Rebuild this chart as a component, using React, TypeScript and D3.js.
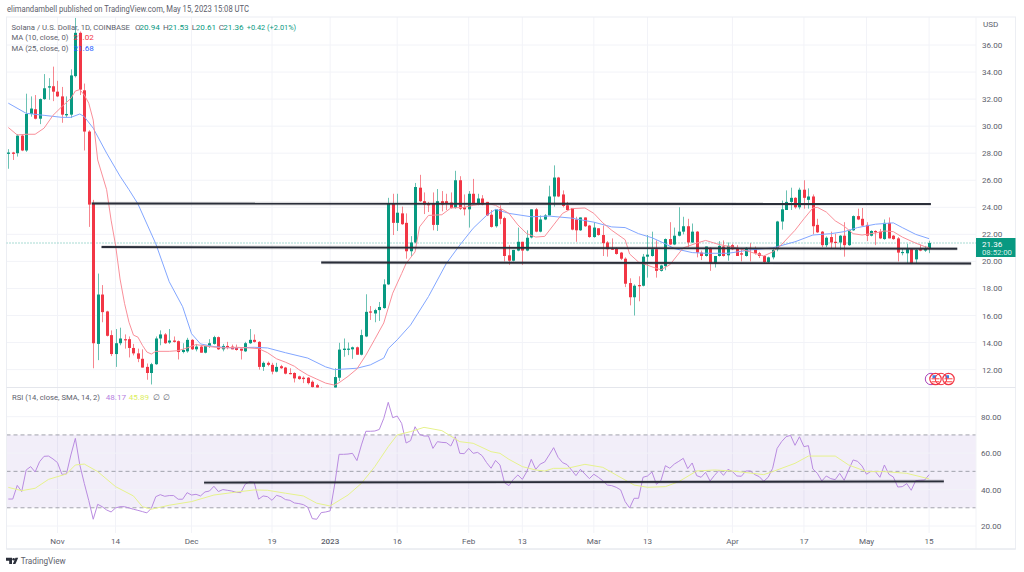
import React from "react";
import * as d3 from "d3";

const opens = [27.95,28.05,28,29.3,28.2,30.9,31.25,30.55,32,32.85,
32.95,32.55,32.2,30.8,30.85,33.7,36.9,32.65,29.6,24.25,
13.9,17.55,16.3,14.55,13.15,13.95,14.25,14.25,13.6,13.2,
12.8,12.2,11.75,12.4,14.3,14.6,14,14.15,14.1,13.3,
13.35,14.2,13.5,13.7,13.25,13.75,13.9,14.4,13.5,13.75,
13.7,13.6,13.55,13.35,13.95,14.2,14.05,12.2,12.5,12.35,
11.85,12.25,12.15,11.75,11.75,11.5,11.4,11.4,11.1,10.85,
10.6,10.3,10.1,10,11.4,13.45,13.5,13.5,13.65,13.1,
14.45,16.3,16.15,16.4,16.55,18.3,24.27,22.85,23.55,22.85,
20.75,21.4,25.45,24.45,24.25,24.3,22.7,24.45,24.45,24.35,
23.95,26,24,23.85,25,24.2,24.65,24.4,23.45,22.6,
23.85,23.2,20.45,20.05,20.8,21.45,20.8,21.77,23.85,22.2,
23.1,23.4,24.8,26.2,24.95,24.15,23.95,23.1,22.3,23.25,
22.65,21.8,22.45,21.95,21.4,20.95,20.95,20.65,20.2,18.4,
17.35,18.25,18.2,20.35,20.4,20.9,19.3,19.65,21.65,21.25,
21.9,22.2,22.6,21.4,22.2,20.65,20.4,21,19.85,20.4,
21.1,20.45,21.2,21,20.6,20.4,21,20.9,20.6,20.4,
19.95,20.3,20.9,22.95,23.8,24.4,24.7,24,25.3,24.55,
24.8,22.7,22.2,21.2,21.8,21.45,21.4,21.9,21.2,22.3,
23.35,23.15,22.7,21.9,22.25,22.2,21.65,22.85,21.9,21.7,
20.65,20.6,20.9,20.15,20.9,20.8,20.94];
const highs = [28.3,28.1,29.4,29.4,32.4,32.2,32.3,32.05,33.85,33.55,
34.4,33.35,32.9,32.2,34.2,38,37,33.15,29.7,24.55,
19.1,18.25,16.35,14.9,15,15.1,14.6,14.45,13.9,13.55,
13.5,12.45,12.5,14.45,14.9,14.7,15,14.45,14.15,13.95,
14.35,14.25,13.9,13.8,13.75,14.25,14.5,14.45,13.9,14.05,
13.85,13.85,13.55,14.05,15,14.6,14.1,12.6,12.6,12.5,
12.5,12.35,12.2,12.1,11.8,11.55,11.5,11.45,11.2,10.95,
10.7,10.4,10.2,12.1,13.98,14.3,14,13.7,13.7,14.95,
17.57,16.7,16.5,17,18.68,24.7,25,25,24.05,23.55,
21.87,25.8,26.4,25.1,24.4,25.1,25.35,25.2,25,25.1,
26.7,26.3,24.95,25.2,26.1,25,24.9,24.4,23.8,23.85,
24.15,23.3,21.2,20.85,22.5,21.45,22.3,23.85,23.95,23.4,
23.5,25.6,27.1,26.25,25.25,24.4,23.95,23.3,23.25,23.25,
22.7,22.9,22.45,22.65,21.5,21.7,21.05,20.7,20.3,18.75,
18.3,18.9,20.55,21.95,22.2,21.55,19.75,21.7,22.9,22.5,
24,23.3,23.15,22.8,22.25,20.8,21.1,21.05,20.4,21.5,
21.55,21.4,21.3,21.2,21,21.05,21.35,21.1,20.7,20.45,
20.35,20.9,23,24.5,25.25,25.45,24.75,25.45,26,25.4,
24.95,23.15,22.25,21.85,22.2,22.05,21.95,22.9,22.35,23.4,
23.9,23.95,22.9,22.3,22.3,22.4,23.1,23.25,21.95,21.8,
20.95,21.3,20.95,20.95,21.25,21.15,21.53];
const lows = [26.85,27.5,27.75,28.15,28.1,30.7,30.5,30.15,31.95,31.95,
31.85,32.15,30.25,30.65,30.6,33.6,32.3,28.2,22.55,12.1,
12.7,15.5,14.45,13,12.2,13.8,13.55,12.9,13.05,12.55,
12.15,11.25,10.9,12.35,13.8,13.9,13.9,14,12.75,13.2,
13.25,13.45,13.35,13.25,13.2,13.6,13.85,13.45,13.35,13.5,
13.5,13.4,12.75,13.3,13.9,14,12,11.9,12.25,11.65,
11.8,12.05,11.65,11.65,11.05,11.25,11,10.9,10.65,10.3,
10.1,10,9.9,9.9,11.15,12.95,13.07,12.8,13.1,13.05,
14.4,15.67,15.5,15.6,16.5,18.25,21.95,22.25,22.7,20.2,
20.4,21.35,24.4,23.5,23.65,22.3,22.25,23.7,23.8,23.9,
23.9,23.8,23.4,22.5,24.2,24.15,24.15,23.35,22.5,22.5,
22.75,20,19.75,20,20.75,19.75,20.75,21.7,22.15,22.15,
23.05,23.4,24.05,24.75,24,23.75,22.3,21.45,22.25,22.55,
21.75,21.75,21.9,20.4,20.35,20.85,20.5,20.1,18.1,16.75,
16,17.05,18.15,18.8,20.35,18.8,19.25,19.35,21.2,21.2,
21.85,22,21.05,21.35,20.3,20.1,20.35,19.3,19.55,20.35,
20.35,20.05,20.85,20.4,20,20.35,20,20.5,20.25,19.85,
19.85,20.15,20.75,22.35,23.8,23.8,23.9,23.85,23.9,23.9,
22,22.1,21.05,21.05,20.95,20.95,20.85,20.35,21.15,22.25,
23.05,22.6,21.5,21.85,21.2,21.65,21.6,21.7,21.6,20,
20.45,19.85,19.8,19.85,20.75,20.7,20.61];
const closes = [28.05,27.95,29.3,28.2,30.9,31.3,30.55,32,32.8,32.95,
32.55,32.2,30.85,30.9,33.75,36.9,32.7,29.6,24.2,13.95,
17.55,16.25,14.5,13.15,13.95,14.3,14.2,13.6,13.2,12.8,
12.15,11.75,12.4,14.3,14.6,13.95,14.15,14.05,13.3,13.45,
14.2,13.5,13.7,13.25,13.75,13.95,14.4,13.5,13.75,13.6,
13.5,13.45,13.4,13.95,14.2,14.05,12.2,12.5,12.35,11.85,
12.2,12.1,11.7,11.7,11.35,11.3,11.3,11,10.7,10.6,
10.3,10.1,10,11.45,13.48,13.55,13.55,13.65,13.1,14.55,
16.27,16.27,16.4,16.63,18.3,24.27,22.85,23.6,22.75,20.75,
21.4,25.5,24.45,24.2,24.15,22.7,24.45,24.2,24.3,23.95,
26,23.9,23.85,25,24.25,24.65,24.2,23.4,22.55,23.85,
23.15,20.4,20.05,20.85,21.45,20.8,21.75,23.85,22.2,23.1,
23.4,24.8,26.2,24.8,24.1,23.8,22.35,22.3,23.25,22.6,
21.8,22.5,21.95,21.35,20.9,20.9,20.55,20.2,18.35,17.35,
18.2,18.2,20.35,20.5,20.9,19.3,19.7,21.65,21.25,21.9,
22.2,22.6,21.4,22.2,20.65,20.4,21.1,19.85,20.4,21.15,
20.4,21.15,20.9,20.4,20.5,21,20.9,20.6,20.4,19.95,
20.3,20.85,22.95,23.85,24.4,24.7,24,25.3,24.7,24.8,
22.6,22.15,21.2,21.75,21.4,21.4,21.9,21.2,22.3,23.35,
23.1,22.65,21.9,22.25,22.15,21.7,22.85,21.7,21.65,20.65,
20.7,20.9,19.85,20.85,20.8,20.95,21.36];

const ma10Idx = [0,2,4,6,8,10,12,14,15,16,17,18,19,20,22,23,24,25,26,27,28,29,30,31,32,33,36,38,40,42,45,48,51,54,56,58,60,62,64,65,67,69,71,73,74,76,78,80,82,84,86,88,89,91,92,94,97,99,102,104,107,109,112,114,116,118,120,122,124,126,129,131,133,135,138,139,141,144,146,148,151,154,156,159,163,167,169,171,173,176,178,180,181,183,185,187,189,191,194,196,198,200,203,205,206];
const ma10Val = [29.9,29.35,29.4,29.4,29.85,30.8,31.45,32.05,32.6,32.7,32.3,31.7,30.45,27.5,25.3,23.05,21.2,18.7,16.9,15.5,14.55,14.4,13.8,13.3,13.15,13.35,13.35,13.4,13.6,13.85,13.7,13.6,13.65,13.6,13.55,13.25,12.8,12.55,12.25,12,11.6,11.3,11,10.85,11.03,11.5,12.05,13.07,14.25,15.45,17.65,19.1,19.85,20.7,22.55,23.4,23.45,23.95,24,24.15,24.3,24.15,23.55,22.7,22.05,21.8,21.85,22.7,23.55,23.9,23.95,23.55,22.85,22.3,21.6,20.55,19.95,19.6,19.38,19.75,21,21.35,21.55,21.25,21,20.6,20.4,20.7,21.25,22.3,23.15,23.95,24,23.65,23,22.6,22.05,21.95,22.1,22.25,22.2,21.8,21.35,21.1,21.02];
const ma25Idx = [0,4,8,12,14,16,17,19,22,25,27,29,33,36,39,41,43,46,50,55,58,62,67,71,73,78,81,84,85,87,90,94,98,101,104,107,109,112,117,121,126,131,135,138,141,144,147,149,153,156,161,166,171,176,180,184,187,190,194,198,200,203,206];
const ma25Val = [31.7,30.95,30.8,30.65,30.65,30.9,30.7,29.85,28,26.3,25.3,24.25,21.3,18.5,16.65,14.65,13.9,13.7,13.6,13.65,13.6,13.25,12.85,12.2,12,12.1,12.35,12.85,13.55,14.2,15.3,17.4,19.85,21.2,22.45,23.4,23.85,23.55,23.3,23.35,23.2,22.9,22.55,22.5,22.05,21.75,21.3,20.95,20.65,20.6,20.6,20.85,21,21.45,21.95,22.05,22.2,22.5,22.75,22.85,22.5,22,21.68];

const rsi = [34.8,34.8,42.3,38.9,50.75,52.6,49.65,55.3,58.25,58.4,
56.8,54.8,48.35,48.55,59,68.1,53.5,43.4,34,23.7,
31.9,30.6,28.8,27.7,29.9,30.6,30.6,29.9,29.2,28.6,
27.9,27.2,29.7,36.1,37.2,36.3,36.7,36.7,34.7,34.7,
38.3,37,37.4,36.5,38.7,39.2,41.8,38.9,40,39.6,
39.2,38.5,38.3,42.9,44.35,44,34.7,36.5,36.1,34.1,
36.85,36.1,34.5,34.1,32.65,32.3,31.75,30.3,24.05,23.7,
27.35,27.7,28.3,42.5,59.35,59.35,59.5,59.9,55.9,64.5,
72,72,72.15,73,79.1,87.9,79.45,80.35,76.35,65.55,
66.85,74.5,70.3,69.4,69.4,62.6,66.3,65.9,65.75,63.9,
69,59.9,59.7,62.6,59.9,60.4,58.6,54.8,51.7,56,
53.5,43.8,42.15,45.6,48,45.6,49.85,56.6,51.1,54,
55.15,59,63,57.7,54.8,53.7,50.75,47.65,51.1,48.55,
46,48.4,46.75,44.9,42.5,42.15,41.25,39.8,33.4,29.9,
35.2,35.2,46.75,47.45,49.65,42.9,44.9,53.1,51.7,54,
55.5,57.15,51.5,54.6,47.65,46.75,49.45,44.7,47.8,50.55,
47.8,51.1,49.85,47.45,47.3,50.2,50.2,48.2,47.1,44.55,
46.75,51.7,62.6,66.3,69,69.75,64.3,69,63.55,64.1,
51.3,48.9,44.7,47.45,46,45.45,48.9,45.1,50.75,56.25,
55.5,52.95,48.4,50,49.85,46.75,53.5,48.4,46.9,41.4,
41.6,43.25,39.6,44.9,45.1,45.25,48.17];
const rsiMaIdx = [0,3,6,9,13,15,17,20,24,28,30,32,36,41,46,50,55,58,62,66,69,72,76,79,82,85,87,90,93,97,101,104,108,110,112,115,118,120,122,125,129,133,136,140,143,147,150,154,158,162,169,171,176,179,185,188,192,196,201,206];
const rsiMaVal = [41.2,39.4,40.7,45.6,48.55,53.5,54,49.85,41.6,36.5,30.6,29.2,31.4,33.4,37,38.3,39.8,39.6,38,36.5,32.5,31,37,43.4,52.6,63.55,70,71.8,74.15,72.35,66.3,65.4,60.8,59.9,56.6,52.6,50.75,50.2,51.65,51.65,53.85,52.2,48,42.5,41.25,41.6,44.35,50.2,50.75,50.2,48.2,49.85,54.4,58.4,58.4,53.5,49.85,49.85,48.9,45.89];

const priceTicks = [12,14,16,18,20,22,24,26,28,30,32,34,36];
const rsiTicks = [20,40,60,80];
const timeTickIdx = [11,24,41,59,72,87,103,115,131,143,162,178,192,206];
const timeTickLabels = ["Nov","14","Dec","19","2023","16","Feb","13","Mar","13","Apr","17","May","15"];

const supportPrice = [
  { from: 18.66, to: 206.4, a: 24.28, b: 24.24 },
  { from: 20.86, to: 212.3, a: 21.06, b: 20.93 },
  { from: 70, to: 215.4, a: 19.92, b: 19.85 },
];
const supportRsi = [{ from: 43.8, to: 209.3, a: 43.8, b: 44.5 }];

const F = "Roboto, 'Liberation Sans', sans-serif";
const UP = "#089981";
const DOWN = "#f23645";
const GRID = "#f2f3f8";
const TXT = "#5d606b";
const FS = 8.1;
const LEFT = 6.5, RIGHT = 976, PTOP = 17, PBOT = 387.5, RBOT = 533, OUTR = 1015.5, OUTB = 549;

export default function App() {
  const x = d3.scaleLinear().domain([0, 206]).range([8.3, 929.1]);
  const y = d3.scaleLinear().domain([12, 36]).range([369.6, 45]);
  const r = d3.scaleLinear().domain([20, 80]).range([526, 416.7]);
  const lineP = (ix: number[], v: number[]) =>
    d3.line<number>().x((_, i) => x(ix[i])).y((d) => y(d))(v) ?? "";
  const lineR = (ix: number[], v: number[]) =>
    d3.line<number>().x((_, i) => x(ix[i])).y((d) => r(d))(v) ?? "";
  const rsiIdx = rsi.map((_, i) => i);
  const lastY = y(closes[closes.length - 1]);

  const heavy = (l: { from: number; to: number; a: number; b: number }, s: d3.ScaleLinear<number, number>, key: string) => (
    <g key={key}>
      <line x1={x(l.from)} x2={x(l.to)} y1={s(l.a)} y2={s(l.b)} stroke="#2a2e39" strokeOpacity={0.18} strokeWidth={3.6} />
      <line x1={x(l.from)} x2={x(l.to)} y1={s(l.a)} y2={s(l.b)} stroke="#2a2e39" strokeWidth={1.9} />
    </g>
  );

  return (
    <svg width={1024} height={572} style={{ position: "absolute", left: 0, top: 0, background: "#fff" }} fontFamily={F}>
      <defs>
        <clipPath id="pp"><rect x={LEFT} y={PTOP} width={RIGHT - LEFT} height={PBOT - PTOP} /></clipPath>
        <clipPath id="rp"><rect x={LEFT} y={PBOT} width={RIGHT - LEFT} height={RBOT - PBOT} /></clipPath>
      </defs>
      <text x={7} y={12} fontSize={8.6} fill={TXT} textLength={242} lengthAdjust="spacingAndGlyphs">
        elimandambell published on TradingView.com, May 15, 2023 15:08 UTC
      </text>

      {/* grid */}
      {priceTicks.map((t) => <line key={t} x1={LEFT} x2={RIGHT} y1={y(t)} y2={y(t)} stroke={GRID} />)}
      {timeTickIdx.map((t) => <line key={t} x1={x(t)} x2={x(t)} y1={PTOP} y2={RBOT} stroke={GRID} />)}

      {/* RSI band */}
      <rect x={LEFT} width={RIGHT - LEFT} y={r(70)} height={r(30) - r(70)} fill="#7e57c2" fillOpacity={0.1} />
      {rsiTicks.map((t) => <line key={t} x1={LEFT} x2={RIGHT} y1={r(t)} y2={r(t)} stroke={GRID} />)}
      {[70, 50, 30].map((t) => (
        <line key={t} x1={LEFT} x2={RIGHT} y1={r(t)} y2={r(t)} stroke="#8d8f99" strokeDasharray="4 3" strokeWidth={0.8} />
      ))}

      {/* frame */}
      <rect x={LEFT} y={PTOP} width={OUTR - LEFT} height={OUTB - PTOP} fill="none" stroke="#eceef3" />
      <line x1={LEFT} x2={OUTR} y1={PBOT} y2={PBOT} stroke="#e4e6ec" />
      <line x1={RIGHT} x2={RIGHT} y1={PTOP} y2={OUTB} stroke="#f2f3f7" />
      <line x1={LEFT} x2={OUTR} y1={OUTB} y2={OUTB} stroke="#e4e6ec" />

      {/* price pane */}
      <g clipPath="url(#pp)">
        <line x1={LEFT} x2={RIGHT} y1={lastY} y2={lastY} stroke={UP} strokeOpacity={0.7} strokeDasharray="1 2" />
        {opens.map((o, i) => {
          const c = closes[i];
          const col = c >= o ? UP : DOWN;
          const cx = Math.round(x(i)) + 0.5;
          const top = y(Math.max(o, c));
          const h = Math.max(1.2, y(Math.min(o, c)) - top);
          return (
            <g key={i}>
              <line x1={cx} x2={cx} y1={y(highs[i])} y2={y(lows[i])} stroke={col} strokeOpacity={0.6} />
              <rect x={cx - 1.5} y={top} width={3} height={h} fill={col} />
            </g>
          );
        })}
        <path d={lineP(ma25Idx, ma25Val)} fill="none" stroke="#82a6ff" strokeWidth={1} />
        <path d={lineP(ma10Idx, ma10Val)} fill="none" stroke="#f98f99" strokeWidth={1} />
        {supportPrice.map((l, i) => heavy(l, y, "s" + i))}
      </g>

      {/* RSI pane */}
      <g clipPath="url(#rp)">
        <path d={lineR(rsiIdx, rsi)} fill="none" stroke="#b98be0" strokeWidth={1} />
        <path d={lineR(rsiMaIdx, rsiMaVal)} fill="none" stroke="#e6f28c" strokeWidth={1} />
        {supportRsi.map((l, i) => heavy(l, r, "r" + i))}
      </g>

      {/* legend */}
      <g fontSize={FS} fill={TXT}>
        <text x={11.5} y={29.5} textLength={118.5} lengthAdjust="spacingAndGlyphs">Solana / U.S. Dollar, 1D, COINBASE</text>
        <text x={135} y={29.5}>O</text><text x={139.5} y={29.5} fill={UP}>20.94</text>
        <text x={163} y={29.5}>H</text><text x={168.3} y={29.5} fill={UP}>21.53</text>
        <text x={191.7} y={29.5}>L</text><text x={195.8} y={29.5} fill={UP}>20.61</text>
        <text x={218.7} y={29.5}>C</text><text x={223.3} y={29.5} fill={UP}>21.36</text>
        <text x={246.7} y={29.5} fill={UP} textLength={49.5} lengthAdjust="spacingAndGlyphs">+0.42 (+2.01%)</text>
        <text x={11.5} y={40} textLength={57} lengthAdjust="spacingAndGlyphs">MA (10, close, 0)</text>
        <text x={73.5} y={40} fill={DOWN}>21.02</text>
        <text x={11.5} y={51} textLength={57} lengthAdjust="spacingAndGlyphs">MA (25, close, 0)</text>
        <text x={73.5} y={51} fill="#2962ff">21.68</text>
        <text x={12} y={400} textLength={88} lengthAdjust="spacingAndGlyphs">RSI (14, close, SMA, 14, 2)</text>
        <text x={105.7} y={400} fill="#b67fe0">48.17</text>
        <text x={128.7} y={400} fill="#dcee5e">45.89</text>
        <text x={153} y={400}>∅</text>
        <text x={162.5} y={400}>∅</text>
      </g>

      {/* axes */}
      <g fontSize={FS} fill={TXT}>
        <text x={983} y={27}>USD</text>
        {priceTicks.map((t) => (
          <text key={t} x={982} y={y(t) + 3}>{t.toFixed(2)}</text>
        ))}
        {rsiTicks.map((t) => (
          <text key={t} x={981} y={r(t) + 3}>{t.toFixed(2)}</text>
        ))}
        {timeTickIdx.map((t, i) => (
          <text key={t} x={x(t)} y={543.5} textAnchor="middle" fontWeight={timeTickLabels[i] === "2023" ? 500 : 400}>
            {timeTickLabels[i]}
          </text>
        ))}
      </g>

      {/* last price tag */}
      <rect x={RIGHT} y={238} width={39.5} height={19} fill={UP} />
      <text x={982} y={247} fontSize={FS} fill="#fff">21.36</text>
      <text x={982} y={254.8} fontSize={FS} fill="#d7efe9" textLength={30} lengthAdjust="spacingAndGlyphs">08:52:00</text>

      {/* event markers */}
      <circle cx={931} cy={379} r={5.7} fill="#fff" stroke="#ab47bc" strokeWidth={1} />
      {[935.5, 948.5].map((c) => (
        <g key={c}>
          <circle cx={c} cy={379} r={5.7} fill="#fff" stroke="#f23645" strokeWidth={1.2} />
          <rect x={c - 4} y={378} width={8} height={1.4} fill="#f77" />
          <rect x={c - 4} y={381} width={8} height={1.4} fill="#f77" />
          <rect x={c - 3} y={375.2} width={3.5} height={3} fill="#3f7fe0" />
        </g>
      ))}
      <circle cx={941} cy={379} r={5.7} fill="none" stroke="#f23645" strokeWidth={1} />

      {/* logo */}
      <g fill="#2a2e39">
        <path d="M6 557.8h6v6.2h-2.8v-3.3H6z" />
        <circle cx={13.6} cy={559.3} r={1.3} />
        <path d="M15.5 557.8h2.7l-2.8 6.2h-2.6z" />
      </g>
      <text x={20.7} y={564} fontSize={9} fill={TXT} textLength={45} lengthAdjust="spacingAndGlyphs">TradingView</text>
    </svg>
  );
}
